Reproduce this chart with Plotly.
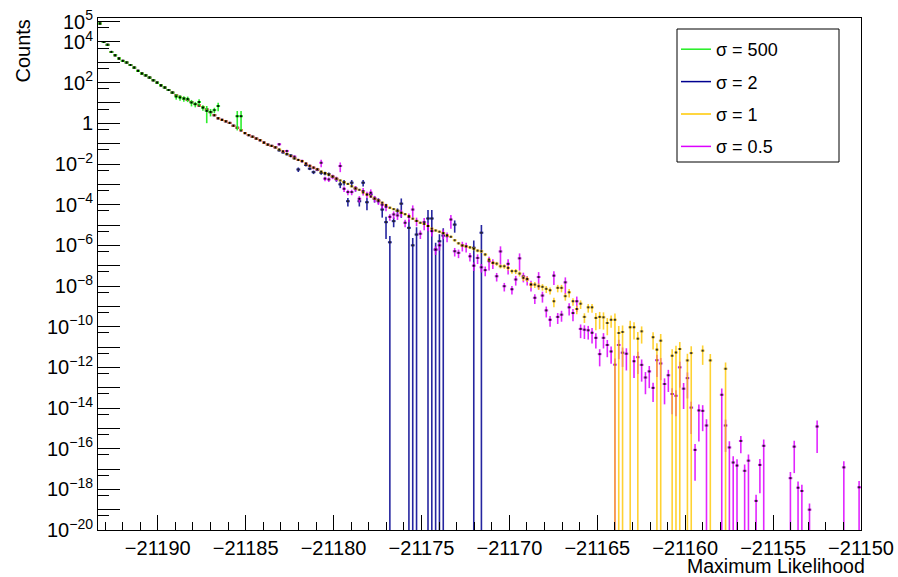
import numpy as np
import plotly.graph_objects as go

# ---------------- data ----------------
N_BINS = 200
X_MIN, X_MAX = -21193.4, -21150.0
Y_LOG_MIN, Y_LOG_MAX = -20.0, 5.18

X_TICKS = [-21190, -21185, -21180, -21175, -21170, -21165, -21160, -21155, -21150]
Y_LABEL_DECADES = [-20, -18, -16, -14, -12, -10, -8, -6, -4, -2, 0, 2, 4, 5]
Y_PLAIN_DECADES = [-19, -17, -15, -13, -11, -9, -7, -5, -3, -1, 1, 3]
SERIES_NAMES = ["σ = 500", "σ = 2", "σ = 1", "σ = 0.5"]
SERIES_COLORS = ["#22ee22", "#000090", "#ffc800", "#dd00ff"]

# log10(counts) of bins 0..46, where all samples coincide
COMMON_LOG = [
    4.91, 4.00, 3.86, 3.51, 3.35, 3.19, 3.07, 2.99, 2.87, 2.74,
    2.58, 2.45, 2.36, 2.25, 2.12, 2.00, 1.87, 1.76, 1.64, 1.51,
    1.38, 1.30, 1.22, 1.15, 1.05, 0.95, 0.88, 0.80, 0.68, 0.55,
    0.40, 0.25, 0.17, 0.10, 0.02, -0.12, -0.22, -0.34, -0.48, -0.58,
    -0.66, -0.75, -0.83, -0.95, -1.05, -1.11, -1.18]
COMMON_REL = [
    0.003, 0.008, 0.010, 0.012, 0.014, 0.016, 0.018, 0.020, 0.020, 0.022,
    0.025, 0.025, 0.028, 0.030, 0.030, 0.032, 0.035, 0.035, 0.038, 0.040,
    0.040, 0.042, 0.045, 0.045, 0.048, 0.050, 0.050, 0.052, 0.055, 0.055,
    0.058, 0.060, 0.060, 0.062, 0.065, 0.065, 0.068, 0.070, 0.070, 0.072,
    0.075, 0.075, 0.078, 0.080, 0.080, 0.082, 0.085]

# sigma = 500 : bins 20..37
S500_LOG_TAIL = [1.32, 1.27, 1.22, 1.20, 1.02, 0.94, 1.05, 0.77, 0.61, 0.56,
                 0.65, 0.85, None, None, None, None, 0.35, 0.35]
S500_REL_TAIL = [0.30, 0.30, 0.30, 0.30, 0.35, 0.30, 0.35, 0.30, 0.75, 0.40,
                 0.30, 0.45, None, None, None, None, 0.80, 0.80]

# sigma = 2 : bins 47..100
S2_LOG_TAIL = [
    -1.33, -1.43, -1.52, -1.58, -1.72, -2.27, -1.86, -2.05, -2.23, -2.40,
    -2.28, -2.43, -2.46, -2.50, -2.62, -2.75, -3.00, -2.90, -3.83, -2.92,
    -3.20, -3.83, -2.92, -3.88, -3.50, -3.71, -3.80, -4.24, -4.86, -5.85,
    -4.81, -4.30, -3.95, None, -5.14, -6.00, -5.47, None, None, -4.68,
    -4.68, -6.21, -5.80, -5.52, None, None, -4.98, None, None, None,
    None, -6.12, None, -5.38]
S2_REL_TAIL = [
    0.10, 0.10, 0.10, 0.12, 0.12, 0.25, 0.12, 0.15, 0.15, 0.20,
    0.15, 0.20, 0.20, 0.20, 0.20, 0.25, 0.35, 0.30, 0.45, 0.35,
    0.30, 0.45, 0.35, 0.60, 0.30, 0.35, 0.30, 0.60, 0.85, 1.05,
    0.50, 0.30, 0.80, None, 1.50, 1.30, 1.30, None, None, 1.60,
    1.60, 1.20, 1.20, 1.30, None, None, 0.60, None, None, None,
    None, 1.30, None, 1.40]

# sigma = 1 : bins 47..164
S1_LOG_TAIL = [
    -1.28, -1.38, -1.50,
    -1.61, -1.72, -1.80, -1.86, -1.98, -2.09, -2.18, -2.26, -2.37, -2.45,
    -2.53, -2.62, -2.72, -2.81, -2.90, -2.98, -3.10, -3.20, -3.27, -3.40,
    -3.50, -3.60, -3.70, -3.78, -3.90, -4.02, -4.15, -4.22, -4.30, -4.40,
    -4.47, -4.56, -4.69, -4.80, -4.89, -4.95, -5.05, -5.18, -5.27, -5.33,
    -5.40, -5.50, -5.58, -5.75, -5.90, -6.01, -6.05, -6.10, -6.17, -6.26,
    -6.29, -6.45, -6.70, -6.86, -6.90, -7.03, -7.03, -7.11, -7.27, -7.27,
    -7.39, -7.60, -7.65, -7.93, -7.93, -8.01, -8.04, -8.14, -8.21, -8.75,
    -8.09, -8.09, -8.50, -8.31, -8.75, -9.13, -8.87, -9.52, -9.05, -9.05,
    -9.57, -9.52, -9.54, -9.82, -9.66, -9.66, -10.31, -10.26, None, -10.03,
    -10.03, -10.59, -10.23, None, None, -10.52, -11.13, -10.69, None, None,
    -11.43, -11.27, -11.10, None, -11.66, -11.30, None, None, -11.18, None,
    -11.66, None, None, None, -12.07]
S1_REL_TAIL = [
    0.03, 0.03, 0.03, 0.03, 0.03, 0.03, 0.04, 0.04, 0.04, 0.04,
    0.04, 0.04, 0.04, 0.05, 0.05, 0.05, 0.05, 0.05, 0.05, 0.06,
    0.06, 0.06, 0.06, 0.06, 0.07, 0.07, 0.07, 0.07, 0.08, 0.08,
    0.08, 0.08, 0.09, 0.09, 0.09, 0.10, 0.10, 0.10, 0.10, 0.11,
    0.11, 0.12, 0.12, 0.12, 0.13, 0.13, 0.14, 0.14, 0.15, 0.15,
    0.16, 0.16, 0.17, 0.18, 0.18, 0.20, 0.20, 0.22, 0.22, 0.25,
    0.25, 0.25, 0.28, 0.28, 0.30, 0.30, 0.32, 0.32, 0.35, 0.35,
    0.38, 0.38, 0.50, 0.40, 0.40, 0.40, 0.45, 0.40, 0.45, 0.45,
    0.50, 0.45, 0.45, 0.75, 0.75, 0.75, 0.75, 0.60, 1.05, 1.20,
    1.10, None, 1.10, 0.75, 1.10, 0.75, None, None, 0.75, 1.05,
    1.15, None, None, 1.10, 1.15, 1.20, None, 1.10, 1.20, None,
    None, 0.80, None, 1.05, None, None, None, 1.05]

# sigma = 0.5 : bins 47..199
S05_LOG_TAIL = [
    -1.03, -1.38, -1.36, -1.61, -1.64, -1.80, -1.85, -1.98, -2.09, -2.18,
    -2.26, -1.94, -2.72, -2.76, -2.62, -2.72, -2.10, -3.22, -3.38, -3.38,
    -3.20, -3.71, -3.33, -3.50, -3.41, -3.70, -3.83, -4.00, -4.10, -4.60,
    -4.48, -4.53, -4.40, -4.89, -4.60, -4.24, -4.80, -5.43, -4.86, -5.05,
    -5.30, -6.21, -6.00, -5.40, -5.55, -4.73, -6.29, -6.37, -6.00, -6.05,
    -6.54, -7.00, -6.62, -7.08, -7.22, -6.78, -6.86, -7.52, -6.30, -8.01,
    -6.91, -8.16, -7.68, -6.64, -7.52, -7.68, -7.93, -8.58, -7.56, -8.47,
    -9.20, -9.66, -7.49, -9.52, -9.41, -7.82, -9.05, -9.33, -8.75, -10.11,
    -10.15, -10.18, -10.30, -10.55, -11.35, -10.55, -10.90, -11.22, -11.87, -10.90,
    -11.28, -11.33, None, -11.70, -11.50, -11.88, -12.50, -12.20, -13.01, -11.65,
    -11.81, -12.82, -12.39, -13.31, -13.40, -12.00, -13.05, -12.53, -13.98, -16.06,
    -14.12, -14.14, -14.86, None, None, None, -13.35, -14.86, -15.94, -16.68,
    -16.83, -15.62, -17.09, -16.59, None, -18.57, -16.80, -15.86, None, None,
    None, None, None, None, -17.45, -15.90, -17.92, -18.08, None, -19.00,
    None, -14.91, None, None, None, None, None, None, -16.92, None,
    None, None, -17.90]
S05_REL_TAIL = [
    0.15, 0.12, 0.15, 0.12, 0.15, 0.12, 0.15, 0.15, 0.15, 0.18,
    0.18, 0.40, 0.25, 0.25, 0.25, 0.25, 0.50, 0.30, 0.30, 0.30,
    0.30, 0.35, 0.40, 0.35, 0.45, 0.35, 0.35, 0.35, 0.40, 0.35,
    0.40, 0.40, 0.40, 0.40, 0.45, 0.60, 0.45, 0.45, 0.60, 0.45,
    0.45, 0.45, 0.45, 0.50, 0.50, 0.65, 0.45, 0.45, 0.50, 0.50,
    0.45, 0.45, 0.50, 0.45, 0.50, 0.65, 0.50, 0.45, 0.78, 0.45,
    0.70, 0.45, 0.50, 0.75, 0.50, 0.50, 0.55, 0.50, 0.75, 0.55,
    0.55, 0.55, 0.65, 0.55, 0.55, 0.75, 0.60, 0.60, 0.70, 0.65,
    0.65, 0.65, 0.70, 0.70, 0.75, 0.70, 0.75, 0.75, 1.02, 0.80,
    0.80, 0.85, None, 0.85, 0.85, 0.85, 0.85, 0.85, 0.80, 0.85,
    0.85, 0.90, 0.85, 0.90, 0.90, 0.90, 0.90, 0.90, 0.95, 0.97,
    0.97, 0.90, 1.02, None, None, None, 1.02, 0.95, 1.02, 1.02,
    1.02, 0.75, 1.02, 1.02, None, 1.02, 0.96, 1.02, None, None,
    None, None, None, None, 1.02, 0.95, 1.02, 1.02, None, 1.02,
    None, 0.95, None, None, None, None, None, None, 1.02, None,
    None, None, 1.02]

S500_LOG = COMMON_LOG[:20] + S500_LOG_TAIL
S500_REL = COMMON_REL[:20] + S500_REL_TAIL
S2_LOG = COMMON_LOG + S2_LOG_TAIL
S2_REL = COMMON_REL + S2_REL_TAIL
S1_LOG = COMMON_LOG + S1_LOG_TAIL
S1_REL = COMMON_REL + S1_REL_TAIL
S05_LOG = COMMON_LOG + S05_LOG_TAIL
S05_REL = COMMON_REL + S05_REL_TAIL

# ---------------- figure ----------------
edges = np.linspace(X_MIN, X_MAX, N_BINS + 1)
centers = 0.5 * (edges[:-1] + edges[1:])
half_width = 0.5 * (edges[1] - edges[0])


def hist_trace(logs, rels, color, opacity):
    xs, ys, ep = [], [], []
    for i, (lv, r) in enumerate(zip(logs, rels)):
        if lv is None:
            continue
        y = 10.0 ** lv
        xs.append(centers[i])
        ys.append(y)
        ep.append(y * r)
    return go.Scatter(
        x=xs, y=ys, mode="markers",
        marker=dict(color="black", size=2, symbol="square", line=dict(width=0)),
        error_y=dict(type="data", array=ep, arrayminus=ep, symmetric=False,
                     color=color, thickness=1.6, width=0),
        error_x=dict(type="constant", value=half_width, color=color,
                     thickness=2, width=0),
        opacity=opacity, showlegend=False, hoverinfo="skip")


fig = go.Figure()
fig.add_trace(hist_trace(S2_LOG, S2_REL, SERIES_COLORS[1], 0.85))
fig.add_trace(hist_trace(S05_LOG, S05_REL, SERIES_COLORS[3], 0.85))
fig.add_trace(hist_trace(S1_LOG, S1_REL, SERIES_COLORS[2], 0.8))
fig.add_trace(hist_trace(S500_LOG, S500_REL, SERIES_COLORS[0], 0.95))

for k, (nm, col) in enumerate(zip(SERIES_NAMES, SERIES_COLORS)):
    fig.add_trace(go.Scatter(x=[None], y=[None], mode="lines", name=nm,
                             line=dict(color=col, width=1.5),
                             legendgroup="g%d" % k, showlegend=True))

# invisible carrier trace for the second (unlabelled tick) y axis
fig.add_trace(go.Scatter(x=[None], y=[None], yaxis="y2", showlegend=False,
                         hoverinfo="skip"))


def ytext(k):
    if k == 0:
        return "1"
    return "10<sup>%s</sup>" % str(k).replace("-", "\u2212")


L, R, T, B = 98, 37, 18, 47
W, H = 898, 577
PW, PH = W - L - R, H - T - B

common_y = dict(type="log", range=[Y_LOG_MIN, Y_LOG_MAX], ticks="inside", ticklen=22,
                tickwidth=1, tickcolor="black", showgrid=False, zeroline=False,
                automargin=False)

fig.update_layout(
    width=W, height=H,
    margin=dict(l=L, r=R, t=T, b=B),
    paper_bgcolor="white", plot_bgcolor="white",
    font=dict(family="Liberation Sans, Arial, sans-serif", size=20, color="black"),
    showlegend=True,
    legend=dict(x=(676 - L) / PW, y=(H - B - 31) / PH, xanchor="left", yanchor="top",
                bgcolor="rgba(0,0,0,0)", borderwidth=0,
                font=dict(size=18, family="Liberation Sans, Arial, sans-serif"),
                tracegroupgap=6, itemwidth=30),
    xaxis=dict(range=[X_MIN, X_MAX], tickmode="array", tickvals=X_TICKS,
               ticktext=[("\u2212%d" % (-v)) for v in X_TICKS],
               ticks="inside", ticklen=15, tickwidth=1, tickcolor="black",
               showline=True, linecolor="black", linewidth=1, mirror=True,
               showgrid=False, zeroline=False, automargin=False,
               minor=dict(ticks="inside", ticklen=8, tickwidth=1, tickcolor="black",
                          tick0=-21190, dtick=1, showgrid=False),
               tickfont=dict(size=20)),
    yaxis=dict(**common_y, tickmode="array",
               tickvals=[10.0 ** k for k in Y_LABEL_DECADES],
               ticktext=[ytext(k) for k in Y_LABEL_DECADES],
               showline=True, linecolor="black", linewidth=1, mirror=True,
               minor=dict(ticks="inside", ticklen=11, tickwidth=1, tickcolor="black",
                          tickmode="array", tickvals=[5 * 10.0 ** k for k in range(-21, 5)],
                          showgrid=False),
               tickfont=dict(size=20)),
    yaxis2=dict(**common_y, overlaying="y", side="left", tickmode="array",
                tickvals=[10.0 ** k for k in Y_PLAIN_DECADES],
                showticklabels=False, showline=False),
    shapes=[dict(type="rect", xref="paper", yref="paper",
                 x0=(677 - L) / PW, x1=(839 - L) / PW,
                 y0=(H - B - 162) / PH, y1=(H - B - 29) / PH,
                 line=dict(color="black", width=1), fillcolor="white", layer="below")],
    annotations=[
        dict(text="Counts", xref="paper", yref="paper", x=(22 - L) / PW, y=1.0,
             xanchor="center", yanchor="top", textangle=-90, showarrow=False,
             font=dict(size=20)),
        dict(text="Maximum Likelihood", xref="paper", yref="paper", x=(867 - L) / PW,
             y=(H - B - 565.5) / PH, xanchor="right", yanchor="middle", showarrow=False,
             font=dict(size=19.5)),
    ],
)

fig.write_html("out.html", config={"displayModeBar": False},
               post_script="document.body.style.margin='0';document.body.style.padding='0';")
